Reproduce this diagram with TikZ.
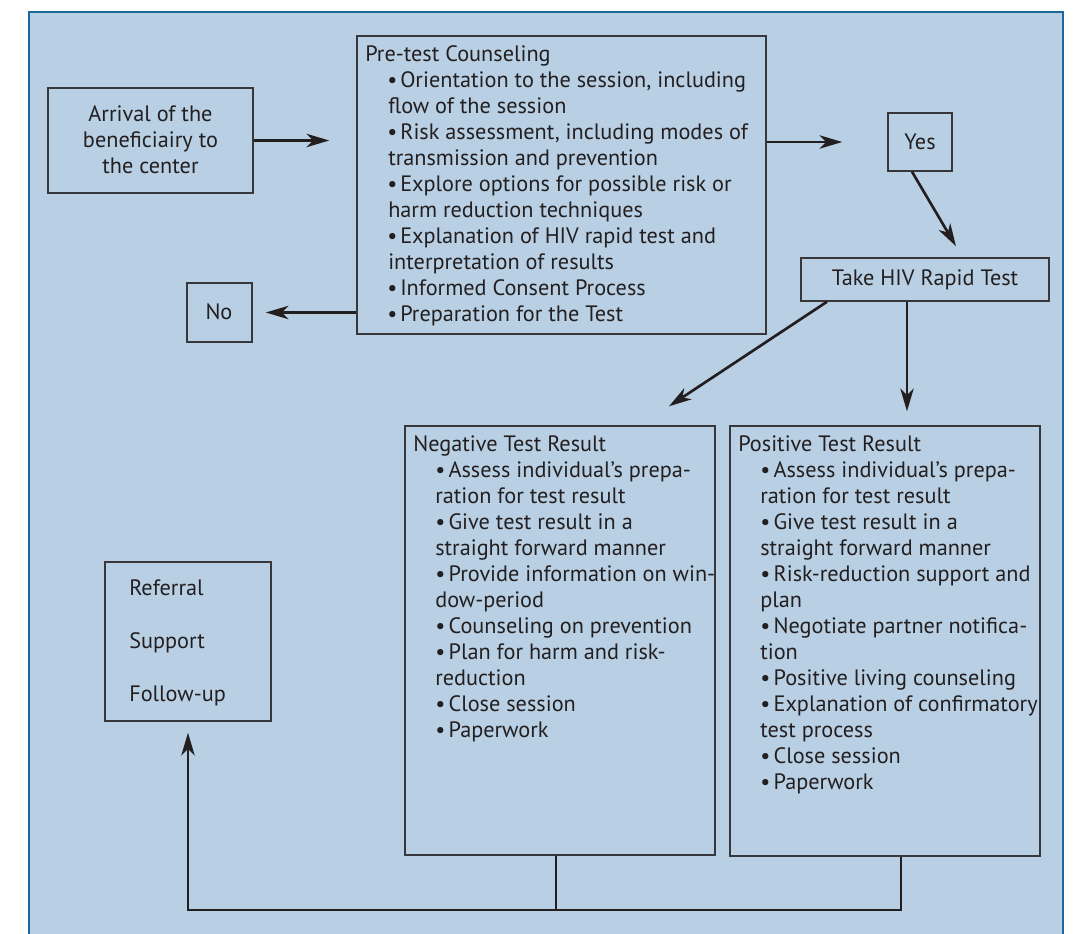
\documentclass[tikz,border=0pt]{standalone}
\usepackage{fontspec}
\setmainfont{PT Sans}
\usetikzlibrary{arrows.meta,fit}
\definecolor{bgblue}{RGB}{185,208,228}
\definecolor{frameblue}{RGB}{25,105,155}
\definecolor{boxline}{RGB}{55,55,60}
\definecolor{ink}{RGB}{35,31,32}
\newcommand\itemP{\hspace*{16.5pt}\makebox[9.75pt][l]{\textbullet}}
\newcommand\contP{\hspace*{17.25pt}}
\newcommand\itemN{\hspace*{16.5pt}\makebox[10pt][l]{\textbullet}}
\newcommand\contN{\hspace*{16.5pt}}
\begin{document}
\begin{tikzpicture}[x=0.75pt,y=-0.75pt,
  box/.style={draw=boxline, line width=1.1pt, inner sep=0pt},
  ctxt/.style={inner sep=0pt, text=ink, align=center,
    font=\fontsize{16.7}{19.5}\selectfont},
  conn/.style={draw=ink, line width=2pt},
  arr/.style={conn, -{Stealth[length=17pt,width=10pt,inset=5pt]}},
  txt/.style={inner sep=0pt, anchor=north west, align=left, text=ink,
    font=\fontsize{16.7}{19.5}\selectfont}]
\useasboundingbox (0,0) rectangle (1078,934);
\fill[white] (0,0) rectangle (1078,934);
\begin{scope}
  \clip (0,0) rectangle (1078,934);
  \draw[frameblue, line width=1.8pt, fill=bgblue] (29,12) rectangle (1063,990);
\end{scope}

% boxes
\node[box, fit={(48,88)(253,193)}] (arr) {};
\node[box, fit={(357,36)(766,334)}] (pre) {};
\node[box, fit={(888,113)(952,171)}] (yes) {};
\node[box, fit={(187,283)(252,342)}] (no) {};
\node[box, fit={(801,258)(1049,301)}] (take) {};
\node[box, fit={(405,426)(715,855)}] (neg) {};
\node[box, fit={(730,426)(1040,856)}] (pos) {};
\node[box, fit={(105,562)(271,721)}] (ref) {};

% texts
\node[ctxt] (arrtxt) at ([yshift=0.75pt]arr.center) {Arrival of the\\beneficiairy to\\the center};
\node[ctxt] (yestxt) at (yes.center) {Yes};
\node[ctxt] (notxt) at ([xshift=-0.4pt,yshift=0.8pt]no.center) {No};
\node[ctxt] (taketxt) at (take.center) {Take HIV Rapid Test};

\node[txt] (pretxt) at (365,45) {Pre-test Counseling\\
\itemP Orientation to the session, including\\
\contP flow of the session\\
\itemP Risk assessment, including modes of\\
\contP transmission and prevention\\
\itemP Explore options for possible risk or\\
\contP harm reduction techniques\\
\itemP Explanation of HIV rapid test and\\
\contP interpretation of results\\
\itemP Informed Consent Process\\
\itemP Preparation for the Test};

\node[txt] (negtxt) at (413,435) {Negative Test Result\\
\itemN Assess individual’s prepa-\\
\contN ration for test result\\
\itemN Give test result in a\\
\contN straight forward manner\\
\itemN Provide information on win-\\
\contN dow-period\\
\itemN Counseling on prevention\\
\itemN Plan for harm and risk-\\
\contN reduction\\
\itemN Close session\\
\itemN Paperwork};

\node[txt] (postxt) at (738,435) {Positive Test Result\\
\itemN Assess individual’s prepa-\\
\contN ration for test result\\
\itemN Give test result in a\\
\contN straight forward manner\\
\itemN Risk-reduction support and\\
\contN plan\\
\itemN Negotiate partner notifica-\\
\contN tion\\
\itemN Positive living counseling\\
\itemN Explanation of confirmatory\\
\contN test process\\
\itemN Close session\\
\itemN Paperwork};

\node[txt, font=\fontsize{16.7}{39.75}\selectfont] (reftxt) at (129,579) {Referral\\Support\\Follow-up};

% connectors
\draw[arr, shorten >=20.25pt] (arr.east) -- (arr.east -| pre.west);
\draw[arr, shorten >=33.75pt] (pre.east |- yes.west) -- (yes.west);
\draw[arr, shorten >=9.75pt] (pre.west |- no.east) -- (no.east);
\draw[arr] ([xshift=-6pt]yes.south) -- ([xshift=23.25pt,yshift=8.25pt]take.north);
\draw[arr] ([xshift=-73.5pt]take.south) -- ([xshift=81.75pt,yshift=14.25pt]neg.north);
\draw[arr] ([xshift=-13.5pt]take.south) -- ([xshift=16.5pt,yshift=10.5pt]pos.north);
\coordinate (bot) at (188,910);
\draw[arr, shorten >=8.25pt] ([xshift=12pt]pos.south) |- (bot) -- (ref.south);
\draw[conn] ([xshift=-3pt]neg.south) -- ([xshift=-3pt]neg.south |- bot);
\end{tikzpicture}
\end{document}
